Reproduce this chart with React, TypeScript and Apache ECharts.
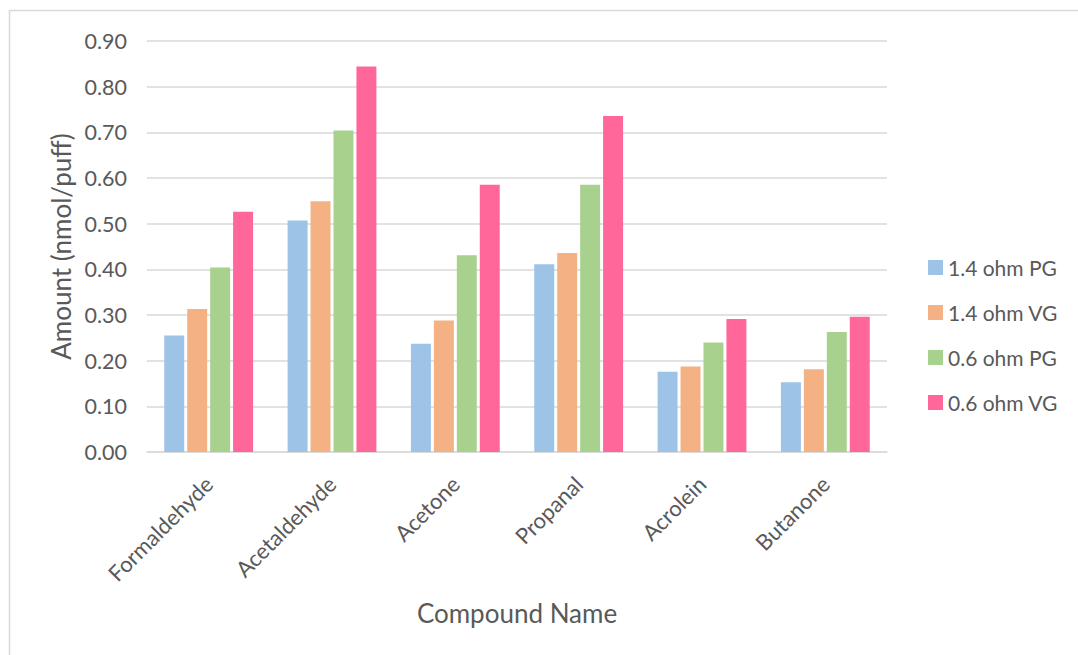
import React, { useEffect, useRef } from "react";
import * as echarts from "echarts";

const categories = ["Formaldehyde", "Acetaldehyde", "Acetone", "Propanal", "Acrolein", "Butanone"];
const seriesNames = ["1.4 ohm PG", "1.4 ohm VG", "0.6 ohm PG", "0.6 ohm VG"];
const pg14 = [0.255, 0.507, 0.237, 0.411, 0.176, 0.153];
const vg14 = [0.313, 0.549, 0.288, 0.436, 0.187, 0.181];
const pg06 = [0.404, 0.704, 0.431, 0.585, 0.240, 0.263];
const vg06 = [0.526, 0.844, 0.585, 0.736, 0.291, 0.296];
const colors = ["#9DC3E6", "#F4B183", "#A9D18E", "#FF6699"];
const yTicks = [0, 0.1, 0.2, 0.3, 0.4, 0.5, 0.6, 0.7, 0.8, 0.9];

const FONT = "Lato, 'Open Sans', sans-serif";

export default function App() {
  const ref = useRef<HTMLDivElement>(null);
  useEffect(() => {
    if (!ref.current) return;
    const chart = echarts.init(ref.current, undefined, { renderer: "svg" });
    const values = [pg14, vg14, pg06, vg06];
    chart.setOption({
      animation: false,
      backgroundColor: "#ffffff",
      textStyle: { fontFamily: FONT },
      graphic: [
        {
          type: "rect",
          silent: true,
          shape: { x: 9.5, y: 10.5, width: 1100, height: 700 },
          style: { fill: "none", stroke: "#D9D9D9", lineWidth: 1.5 },
        },
      ],
      legend: {
        orient: "vertical",
        left: 923,
        top: 252,
        itemWidth: 15,
        itemHeight: 15,
        itemGap: 24,
        icon: "rect",
        textStyle: { fontSize: 21, color: "#595959", fontFamily: FONT, padding: [0, 0, 0, 0] },
        data: seriesNames,
      },
      grid: { left: 147, right: 191, top: 41, bottom: 203, containLabel: false },
      xAxis: {
        type: "category",
        data: categories,
        name: "Compound Name",
        nameLocation: "middle",
        nameGap: 148,
        nameTextStyle: { fontSize: 26, color: "#595959", fontFamily: FONT },
        axisLine: { show: true, lineStyle: { color: "#D9D9D9", width: 1.5 } },
        axisTick: { show: false },
        axisLabel: {
          rotate: 45,
          fontSize: 22,
          color: "#595959",
          margin: 28,
          fontFamily: FONT,
        },
      },
      yAxis: {
        type: "value",
        min: 0,
        max: 0.9,
        interval: 0.1,
        name: "Amount (nmol/puff)",
        nameLocation: "middle",
        nameGap: 70,
        nameTextStyle: { fontSize: 26, color: "#595959", fontFamily: FONT },
        axisLine: { show: false },
        axisTick: { show: false },
        axisLabel: {
          fontSize: 21.5,
          color: "#595959",
          margin: 20,
          fontFamily: FONT,
          formatter: (v: number) => {
            const t = yTicks.find((x) => Math.abs(x - v) < 1e-9);
            return (t !== undefined ? t : v).toFixed(2);
          },
        },
        splitLine: { lineStyle: { color: "#D9D9D9", width: 1.5 } },
      },
      series: seriesNames.map((name, i) => ({
        name,
        type: "bar",
        data: values[i],
        barGap: "15%",
        barCategoryGap: "28%",
        itemStyle: { color: colors[i] },
      })),
    });
    return () => chart.dispose();
  }, []);
  return <div ref={ref} style={{ position: "fixed", left: 0, top: 0, width: 1078, height: 655 }} />;
}
